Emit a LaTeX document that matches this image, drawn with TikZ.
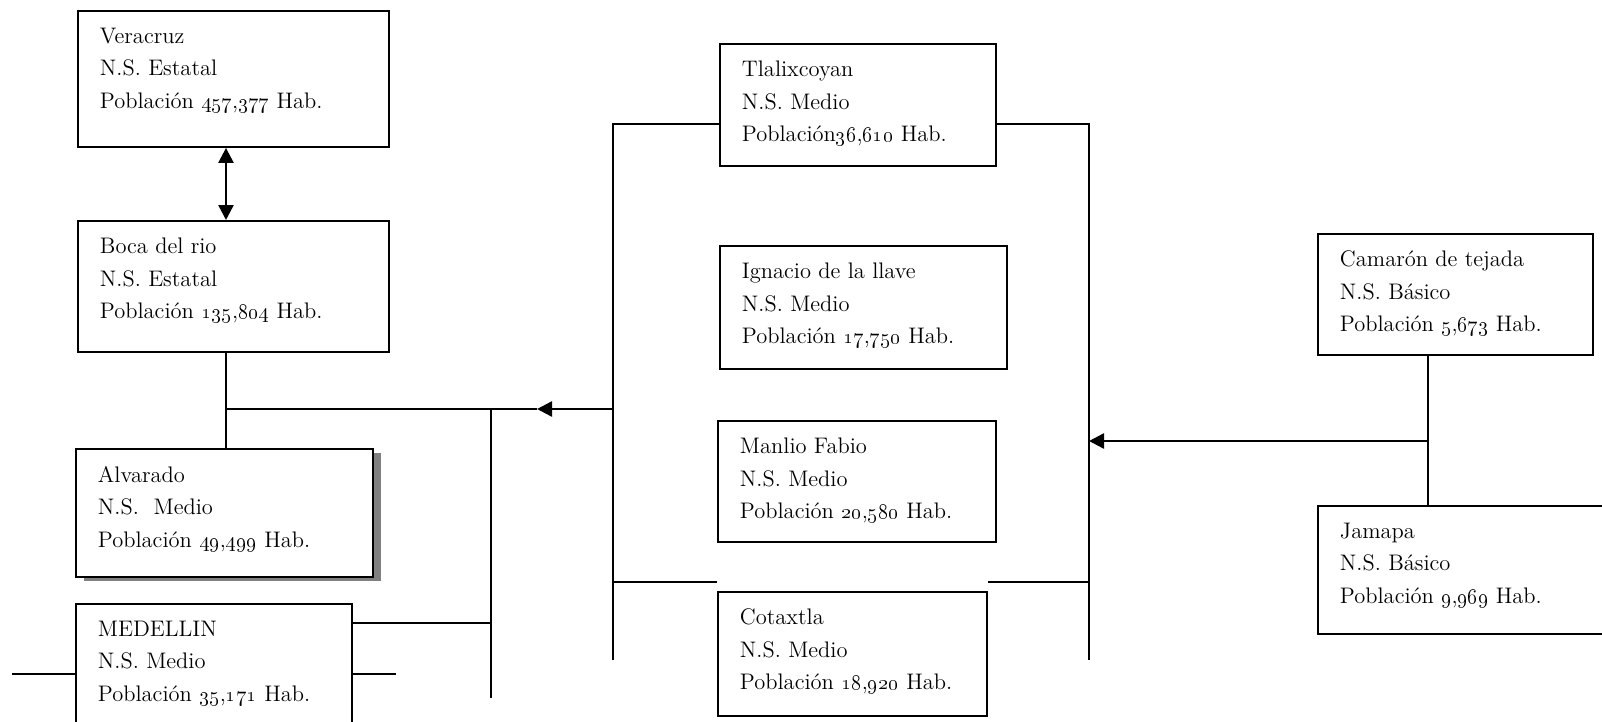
\documentclass[tikz,border=0pt]{standalone}
\usepackage{tikz}
\usetikzlibrary{arrows.meta,shadows}

\newcommand{\cifra}[2]{\oldstylenums{#1},\oldstylenums{#2}}

\tikzset{
	municipio/.style 2 args={draw=black, line width=1.1pt, anchor=north west, inner xsep=0.44cm, inner ysep=0.34cm, font=\fontsize{12.8}{18.5}\selectfont, execute at begin node={\begin{minipage}[t][#2][t]{#1}}, execute at end node={\end{minipage}}},
	flecha/.style={fill=none, line width=1.4pt},
}

\begin{document}
\begin{tikzpicture}[x=0.02cm, y=-0.02cm, line width=1pt, >={Triangle[length=0.3cm, width=0.3cm]}]
	\useasboundingbox (0,0) rectangle (1602,721);
	\clip (0,0) rectangle (1602,721);
	\node [municipio={5.34cm}{2.04cm}] (veracruz) at (77, 10) {Veracruz\\N.S. Estatal\\Población \cifra{457}{377} Hab.};
	\node [municipio={5.34cm}{1.94cm}] (boca) at (77, 220) {Boca del rio\\N.S. Estatal\\Población \cifra{135}{804} Hab.};
	\node [municipio={5.06cm}{1.88cm}, fill=white, drop shadow={shadow xshift=0.16cm, shadow yshift=-0.09cm, fill=gray, opacity=1}] (alvarado) at (75, 448) {Alvarado\\N.S.\ \ Medio\\Población \cifra{49}{499} Hab.};
	\node [municipio={4.64cm}{2.06cm}] (medellin) at (75, 603) {MEDELLIN\\N.S. Medio\\Población \cifra{35}{171} Hab.};
	\node [municipio={4.64cm}{1.76cm}] (tlalix) at (719, 43) {Tlalixcoyan\\N.S. Medio\\Población\cifra{36}{610} Hab.};
	\node [municipio={4.86cm}{1.78cm}] (ignacio) at (719, 245) {Ignacio de la llave\\N.S. Medio\\Población \cifra{17}{750} Hab.};
	\node [municipio={4.68cm}{1.74cm}] (manlio) at (717, 420) {Manlio Fabio\\N.S. Medio\\Población \cifra{20}{580} Hab.};
	\node [municipio={4.50cm}{1.80cm}] (cotaxtla) at (717, 591) {Cotaxtla\\N.S. Medio\\Población \cifra{18}{920} Hab.};
	\node [municipio={4.62cm}{1.74cm}] (camaron) at (1317, 233) {Camarón de tejada\\N.S. Básico\\Población \cifra{5}{673} Hab.};
	\node [municipio={4.98cm}{1.88cm}] (jamapa) at (1317, 505) {Jamapa\\N.S. Básico\\Población \cifra{9}{969} Hab.};
	\coordinate (j1) at (226, 409);
	\coordinate (j2) at (491, 409);
	\coordinate (j2b) at (491, 698);
	\coordinate (punta) at (537, 409);
	\coordinate (m1) at (491, 623);
	\coordinate (m2) at (12, 674);
	\coordinate (m3) at (396, 674);
	\coordinate (izq1) at (613, 124);
	\coordinate (izq2) at (613, 409);
	\coordinate (izq3) at (613, 582);
	\coordinate (izq4) at (613, 660);
	\coordinate (der1) at (1089, 124);
	\coordinate (der2) at (1089, 441);
	\coordinate (der3) at (1089, 582);
	\coordinate (der4) at (1089, 660);
	\coordinate (j3) at (1428, 441);
	\draw [flecha, <->] (veracruz.south -| j1) to (boca.north -| j1);
	\draw (boca.south -| j1) to (alvarado.north -| j1);
	\draw (j1) to (punta);
	\draw (j2) to (j2b);
	\draw (m1 -| medellin.east) to (m1);
	\draw (m2) to (m2 -| medellin.west);
	\draw (m3 -| medellin.east) to (m3);
	\draw [flecha, ->] (izq2) to (punta);
	\draw (izq1 -| tlalix.west) to (izq1) to (izq4);
	\draw (izq3) to (izq3 -| cotaxtla.west);
	\draw (der1 -| tlalix.east) to (der1) to (der4);
	\draw (der3) to (der3 -| cotaxtla.east);
	\draw (camaron.south -| j3) to (jamapa.north -| j3);
	\draw [flecha, ->] (j3) to (der2);
\end{tikzpicture}
\end{document}
